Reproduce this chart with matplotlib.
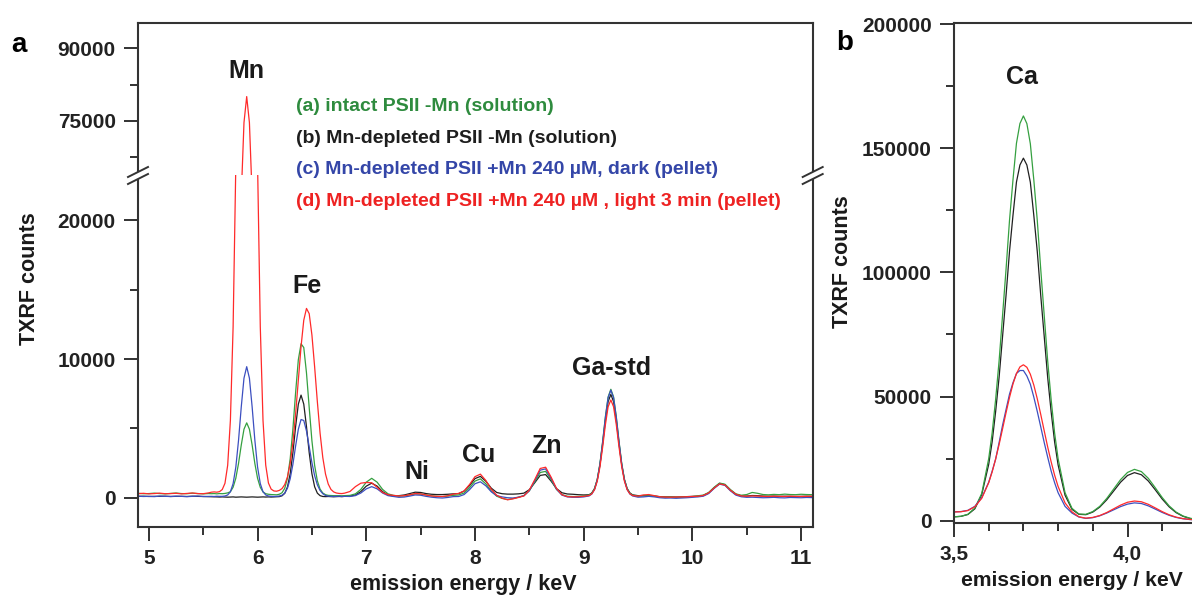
import matplotlib
matplotlib.use("Agg")
import matplotlib.pyplot as plt
import numpy as np
from matplotlib.lines import Line2D
from matplotlib.patches import Polygon

W, H = 1192, 596

# ---------------- panel a : TXRF spectra 4.9 - 11.1 keV ----------------
energy = np.round(np.concatenate([
    np.arange(4.90, 5.551, 0.05),
    np.arange(5.575, 6.801, 0.025),
    np.arange(6.85, 9.051, 0.05),
    np.arange(9.075, 9.426, 0.025),
    np.arange(9.45, 11.101, 0.05),
]), 3)

green = [
    320, 290, 300, 330, 300, 280, 310, 340, 300, 290, 330, 300, 280, 300,
    290, 300, 280, 300, 290, 310, 350, 430, 760, 1410,
    2480, 3800, 4940, 5400, 4940, 3800, 2470, 1400, 750, 420,
    290, 250, 230, 220, 210, 250, 360, 680, 1410, 2800,
    4950, 7590, 9950, 11100, 10830, 9000, 6500, 4110, 2330, 1220,
    620, 340, 220, 170, 160, 150, 150, 150, 140, 150,
    170, 280, 600, 1120, 1400, 1120, 600, 280, 170, 120,
    130, 200, 280, 260, 200, 130, 100, 80, 120, 170,
    200, 340, 720, 1200, 1360, 1000, 480, 110, -50, -130,
    -60, 40, 150, 500, 1150, 1820, 1900, 1300, 600, 225,
    105, 85, 90, 120, 190,
    330, 660, 1330, 2480, 4080, 5850, 7270, 7820, 7270, 5850, 4080, 2480, 1330, 660, 330,
    180, 110, 130, 150, 120, 60, 40, 50, 30, 40,
    60, 80, 140, 190, 380, 750, 1060, 970, 590, 280,
    180, 230, 380, 320, 230, 210, 240, 220, 260, 230,
    220, 250, 230, 220,
]

black = [
    100, 110, 90, 100, 100, 110, 90, 100, 100, 90, 110, 100, 90, 80,
    80, 70, 60, 50, 60, 50, 40, 50, 60, 40,
    50, 60, 50, 40, 50, 60, 50, 40, 50, 60,
    50, 60, 50, 60, 70, 80, 140, 320, 780, 1720,
    3240, 5130, 6750, 7400, 6750, 5130, 3250, 1730, 790, 330,
    150, 90, 80, 90, 80, 70, 80, 90, 80, 100,
    116, 196, 442, 836, 1050, 836, 442, 196, 130, 150,
    200, 300, 400, 380, 300, 250, 230, 230, 250, 280,
    300, 480, 880, 1380, 1540, 1190, 690, 380, 290, 260,
    260, 280, 330, 580, 1080, 1610, 1670, 1200, 660, 360,
    270, 250, 220, 200, 215,
    345, 660, 1300, 2380, 3900, 5580, 6930, 7450, 6930, 5580, 3900, 2380, 1300, 660, 345,
    210, 150, 160, 150, 120, 80, 60, 60, 50, 60,
    80, 100, 110, 160, 350, 720, 1030, 940, 550, 250,
    130, 120, 160, 150, 120, 110, 120, 100, 110, 100,
    90, 100, 110, 100,
]

blue = [
    110, 90, 100, 80, 120, 100, 90, 110, 100, 80, 100, 120, 90, 100,
    100, 90, 110, 100, 100, 125, 200, 430, 1020, 2210,
    4150, 6550, 8620, 9450, 8620, 6550, 4150, 2210, 1020, 430,
    200, 125, 100, 90, 100, 120, 180, 330, 690, 1360,
    2410, 3730, 4940, 5640, 5570, 4810, 3680, 2530, 1590, 930,
    520, 290, 160, 120, 100, 90, 100, 110, 90, 100,
    92, 152, 339, 638, 800, 640, 340, 150, 90, 30,
    50, 120, 200, 180, 100, 40, 0, -20, 20, 80,
    90, 230, 580, 1010, 1150, 860, 430, 150, 60, 0,
    -20, 40, 150, 500, 1230, 1990, 2080, 1400, 620, 190,
    60, 30, 30, 60, 130,
    270, 600, 1270, 2420, 4020, 5790, 7210, 7760, 7210, 5790, 4020, 2420, 1270, 600, 270,
    130, 40, 60, 100, 60, 0, -30, -20, -40, -20,
    0, 30, 60, 110, 300, 670, 980, 890, 500, 190,
    70, 30, 40, 20, 0, 10, 30, 0, -10, 20,
    10, 0, 20, 10,
]

red = [
    290, 320, 280, 300, 330, 290, 300, 320, 280, 310, 340, 300, 290, 350,
    400, 420, 400, 440, 590, 1040, 2340, 5580, 12330, 24050,
    40690, 59410, 74610, 80000, 74600, 59400, 40700, 24050, 12330, 5580,
    2350, 1060, 620, 490, 470, 530, 660, 950, 1500, 2480,
    3980, 6050, 8480, 10900, 12800, 13650, 13270, 11730, 9430, 6920,
    4660, 2900, 1710, 990, 600, 420, 340, 310, 300, 330,
    450, 800, 1050, 1100, 1080, 750, 380, 220, 170, 130,
    150, 220, 300, 280, 200, 130, 100, 90, 140, 260,
    310, 490, 955, 1520, 1700, 1245, 610, 180, -30, -150,
    -80, 20, 130, 550, 1310, 2110, 2200, 1490, 670, 220,
    80, 60, 70, 100, 160,
    285, 580, 1190, 2230, 3670, 5270, 6560, 7050, 6560, 5270, 3670, 2230, 1190, 580, 285,
    160, 120, 200, 230, 150, 70, 50, 40, 50, 60,
    70, 90, 110, 160, 350, 700, 1000, 920, 540, 250,
    130, 110, 130, 120, 100, 90, 110, 100, 90, 110,
    100, 90, 100, 110,
]

# ---------------- panel b : Ca K region ----------------
energy_b = np.round(np.concatenate([
    np.arange(3.50, 3.591, 0.02),
    np.arange(3.60, 3.801, 0.01),
    np.arange(3.82, 4.201, 0.02),
]), 2)

green_b = [1600, 1800, 2600, 5100, 11000,
           25000, 35450, 48900, 64430, 82800, 101280, 121000, 137320, 152000, 159940, 163000,
           159920, 151800, 137260, 120900, 101180, 82600, 64290, 48700, 35270, 25000,
           11300, 5000, 2700, 2600, 3700, 5800, 8950, 12750, 16550, 19450,
           20700, 19800, 17080, 13300, 9350, 5980, 3500, 1920, 1020, 560]
black_b = [1570, 1770, 2520, 4810, 10570,
           22700, 31860, 44000, 57800, 74300, 90770, 108500, 123020, 136400, 143260, 146000,
           143240, 136300, 122960, 108400, 90670, 74200, 57660, 43800, 31680, 22500,
           10300, 4600, 2600, 2450, 3500, 5500, 8420, 11960, 15520, 18240,
           19380, 18540, 16010, 12470, 8760, 5610, 3280, 1790, 920, 480]
red_b = [3530, 3630, 4110, 5640, 9060,
         15330, 19690, 24890, 30720, 37050, 43520, 49680, 55100, 59280, 61950, 62800,
         61800, 59000, 54650, 49100, 42800, 36200, 29700, 23700, 18340, 13800,
         7200, 3580, 1600, 1050, 1350, 2100, 3300, 4800, 6300, 7450,
         7950, 7650, 6620, 5180, 3680, 2400, 1460, 870, 530, 350]
blue_b = [3600, 3700, 4200, 5800, 9300,
          15500, 20000, 24800, 31500, 38500, 44800, 51000, 55600, 59300, 60500, 60500,
          58300, 55000, 49800, 44000, 37800, 31500, 25600, 20000, 15300, 11300,
          5800, 3100, 1500, 950, 1250, 2000, 3100, 4400, 5700, 6700,
          7200, 6950, 6000, 4700, 3350, 2200, 1350, 800, 480, 330]

legend_texts = [
    "(a) intact PSII -Mn (solution)",
    "(b) Mn-depleted PSII -Mn (solution)",
    "(c) Mn-depleted PSII +Mn 240 \u00b5M, dark (pellet)",
    "(d) Mn-depleted PSII +Mn 240 \u00b5M , light 3 min (pellet)",
]
legend_colors = ["#2e8b3e", "#1e1e1e", "#3446a8", "#ee2222"]
peak_labels = ["Mn", "Fe", "Ni", "Cu", "Zn", "Ga-std"]
peak_pos = [(246, 78), (307, 293), (417, 479), (479, 462), (547, 453), (612, 375)]

c_green, c_black, c_blue, c_red = "#35a040", "#202020", "#3c4fc0", "#ff2a2a"


def fx(x):
    return x / W


def fy(y):
    return 1 - y / H


plt.rcParams["font.family"] = ["Liberation Sans", "DejaVu Sans"]
plt.rcParams["font.weight"] = "bold"
plt.rcParams["axes.edgecolor"] = "#333333"
plt.rcParams["axes.linewidth"] = 1.5

fig = plt.figure(figsize=(W / 100, H / 100), dpi=100)

ax_top = fig.add_axes([fx(138), fy(175), (812.7 - 138) / W, (175 - 23.3) / H])
ax_bot = fig.add_axes([fx(138), fy(527), (812.7 - 138) / W, (527 - 175) / H])
# panel b runs past the right edge of the figure (347 px per keV)
ax_b = fig.add_axes([fx(954), fy(523), 0.8 * 347 / W, (523 - 23.3) / H])

for ax in (ax_top, ax_bot):
    ax.plot(energy, black, color=c_black, lw=0.9)
    ax.plot(energy, green, color=c_green, lw=0.9)
    ax.plot(energy, blue, color=c_blue, lw=0.9)
    ax.plot(energy, red, color=c_red, lw=0.9)
    ax.set_xlim(4.9, 11.107)
    ax.tick_params(which="both", direction="out", width=1.3, labelsize=15,
                   pad=6, colors="#222222")
    ax.tick_params(which="major", length=10)
    ax.tick_params(which="minor", length=6)

ax_top.set_ylim(63750, 95180)
ax_top.set_yticks([75000, 90000])
ax_top.set_yticklabels(["75000", "90000"])
ax_top.set_yticks([67500, 82500], minor=True)
ax_top.spines["bottom"].set_visible(False)
ax_top.tick_params(axis="x", which="both", bottom=False, labelbottom=False)

ax_bot.set_ylim(-2110, 23270)
ax_bot.set_yticks([0, 10000, 20000])
ax_bot.set_yticklabels(["0", "10000", "20000"])
ax_bot.set_yticks([5000, 15000], minor=True)
ax_bot.set_xticks([5, 6, 7, 8, 9, 10, 11])
ax_bot.set_xticks([5.5, 6.5, 7.5, 8.5, 9.5, 10.5], minor=True)
ax_bot.spines["top"].set_visible(False)

ax_b.plot(energy_b, black_b, color=c_black, lw=0.9)
ax_b.plot(energy_b, green_b, color=c_green, lw=0.9)
ax_b.plot(energy_b, blue_b, color=c_blue, lw=0.9)
ax_b.plot(energy_b, red_b, color=c_red, lw=0.9)
ax_b.set_xlim(3.5, 4.3)
ax_b.set_ylim(-900, 200300)
ax_b.set_yticks([0, 50000, 100000, 150000, 200000])
ax_b.set_yticklabels(["0", "50000", "100000", "150000", "200000"])
ax_b.set_yticks([25000, 75000, 125000, 175000], minor=True)
ax_b.set_xticks([3.5, 4.0])
ax_b.set_xticklabels(["3,5", "4,0"])
ax_b.set_xticks([3.6, 3.7, 3.8, 3.9, 4.1, 4.2], minor=True)
ax_b.tick_params(which="both", direction="out", width=1.3, labelsize=15,
                 pad=6, colors="#222222")
ax_b.tick_params(which="major", length=10)
ax_b.tick_params(which="minor", length=6)


# axis break marks on the left and right spine of panel a
def draw_break(xc, yc):
    gap = 3.5
    poly = [(xc - 4, yc - gap + 2), (xc + 4, yc - gap - 2),
            (xc + 4, yc + gap - 2), (xc - 4, yc + gap + 2)]
    fig.add_artist(Polygon([(fx(x), fy(y)) for x, y in poly], closed=True,
                           facecolor="white", edgecolor="none",
                           transform=fig.transFigure, zorder=5))
    for o in (-gap, gap):
        fig.add_artist(Line2D([fx(xc - 10), fx(xc + 10)],
                              [fy(yc + o + 5), fy(yc + o - 5)],
                              color="#333333", lw=1.4,
                              transform=fig.transFigure, zorder=6))


draw_break(138, 175.5)
draw_break(812.7, 175.5)

# text
for lab, (x, y) in zip(peak_labels, peak_pos):
    fig.text(fx(x), fy(y), lab, fontsize=18, ha="center", va="baseline",
             color="#1a1a1a")
fig.text(fx(1022), fy(84), "Ca", fontsize=18, ha="center", va="baseline",
         color="#1a1a1a")

for i, (txt, col) in enumerate(zip(legend_texts, legend_colors)):
    fig.text(fx(296), fy(111 + i * 31.7), txt, fontsize=14, color=col,
             ha="left", va="baseline")

fig.text(fx(19), fy(52), "a", fontsize=20, ha="center", va="baseline")
fig.text(fx(845), fy(50), "b", fontsize=20, ha="center", va="baseline")

fig.text(fx(30), fy(279), "TXRF counts", rotation=90, fontsize=15.5,
         ha="center", va="center", color="#1a1a1a")
fig.text(fx(843), fy(262), "TXRF counts", rotation=90, fontsize=15.5,
         ha="center", va="center", color="#1a1a1a")
fig.text(fx(463), fy(590), "emission energy / keV", fontsize=15.5,
         ha="center", va="baseline", color="#1a1a1a")
fig.text(fx(1072), fy(586), "emission energy / keV", fontsize=15.2,
         ha="center", va="baseline", color="#1a1a1a")

plt.savefig("out.png", dpi=100)
